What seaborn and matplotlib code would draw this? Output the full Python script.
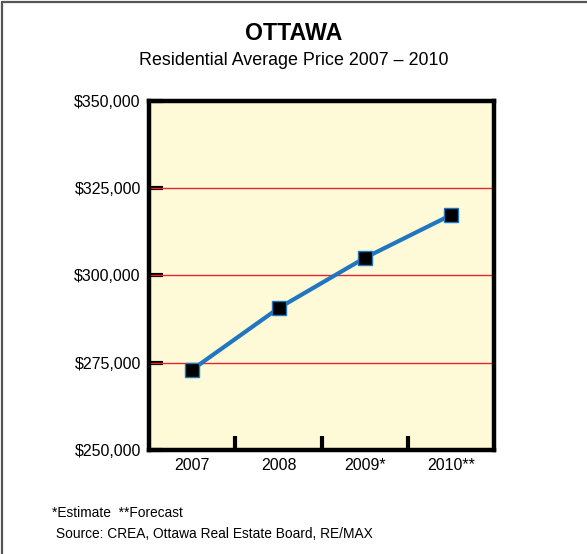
import matplotlib
matplotlib.use("Agg")
import matplotlib.pyplot as plt
from matplotlib.lines import Line2D
from matplotlib.ticker import FixedLocator, FuncFormatter
import pandas as pd
import seaborn as sns

# data
years = ['2007', '2008', '2009*', '2010**']
avg_price = [273000, 290600, 305000, 317300]
y_ticks = [250000, 275000, 300000, 325000, 350000]

title = 'OTTAWA'
subtitle = 'Residential Average Price 2007 \u2013 2010'
note = '*Estimate  **Forecast'
source = ' Source: CREA, Ottawa Real Estate Board, RE/MAX'

df = pd.DataFrame({'year': years, 'price': avg_price})

sns.set_theme(style='white')
plt.rcParams['font.family'] = ['Liberation Sans', 'DejaVu Sans']

fig = plt.figure(figsize=(5.87, 5.54), dpi=100)
ax = fig.add_axes([0.254, 0.188, 0.588, 0.630])
ax.set_facecolor('#fefad8')

# red gridlines at interior ticks
for v in y_ticks[1:-1]:
    ax.axhline(v, color='#e8232a', lw=1.0, zorder=1)

sns.lineplot(data=df, x='year', y='price', ax=ax, color='#2077c0', lw=3,
             marker='s', markersize=10, markerfacecolor='black',
             markeredgecolor='#2077c0', markeredgewidth=1, zorder=3,
             sort=False)

ax.set_xlim(-0.5, len(years) - 0.5)
ax.set_ylim(y_ticks[0], y_ticks[-1])
ax.set_yticks(y_ticks)
ax.yaxis.set_major_formatter(FuncFormatter(lambda v, p: f'${v:,.0f}'))
ax.set_xticks(range(len(years)))
ax.set_xticklabels(years)
ax.xaxis.set_minor_locator(FixedLocator([i + 0.5 for i in range(len(years) - 1)]))

ax.tick_params(axis='x', which='major', length=0, labelsize=11.5, pad=6, colors='black')
ax.tick_params(axis='x', which='minor', bottom=True, direction='in', length=10, width=3, color='black')
ax.tick_params(axis='y', which='major', left=True, direction='in', length=10, width=3,
               color='black', labelsize=11.5, pad=6, labelcolor='black')
ax.set_xlabel('')
ax.set_ylabel('')

for s in ax.spines.values():
    s.set_visible(True)
    s.set_color('black')
    s.set_linewidth(3.2)
    s.set_zorder(4)

fig.text(0.5, 0.940, title, ha='center', va='center', fontsize=16.7, fontweight='bold', color='black')
fig.text(0.5, 0.891, subtitle, ha='center', va='center', fontsize=12.9, color='black')
fig.text(0.088, 0.074, note, ha='left', va='center', fontsize=9.9, color='black')
fig.text(0.088, 0.036, source, ha='left', va='center', fontsize=9.9, color='black')

# frame on the left and top edges
fig.add_artist(Line2D([0.003, 0.003], [0, 0.997], transform=fig.transFigure, color='#555555', lw=1.6))
fig.add_artist(Line2D([0.003, 1], [0.997, 0.997], transform=fig.transFigure, color='#555555', lw=1.6))

fig.savefig('out.png', dpi=100)
